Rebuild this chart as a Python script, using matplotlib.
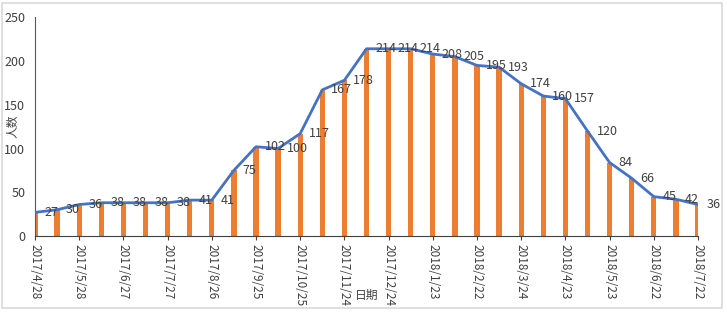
import pandas as pd
import matplotlib
matplotlib.use("Agg")
import matplotlib.pyplot as plt
import matplotlib.dates as mdates
from matplotlib import font_manager
from matplotlib.patches import Rectangle

installed = {f.name for f in font_manager.fontManager.ttflist}
narrow = 'Liberation Sans Narrow' in installed
num_font = ['Liberation Sans Narrow', 'Noto Sans CJK SC', 'DejaVu Sans'] if narrow else ['Noto Sans CJK SC', 'DejaVu Sans']
num_size = 10 if narrow else 8.5
plt.rcParams['font.family'] = num_font

# data
dates = ["2017-04-28", "2017-05-13", "2017-05-28", "2017-06-12", "2017-06-27",
         "2017-07-12", "2017-07-27", "2017-08-11", "2017-08-26", "2017-09-10",
         "2017-09-25", "2017-10-10", "2017-10-25", "2017-11-09", "2017-11-24",
         "2017-12-09", "2017-12-24", "2018-01-08", "2018-01-23", "2018-02-07",
         "2018-02-22", "2018-03-09", "2018-03-24", "2018-04-08", "2018-04-23",
         "2018-05-08", "2018-05-23", "2018-06-07", "2018-06-22", "2018-07-07",
         "2018-07-22"]
counts = [27, 30, 36, 38, 38, 38, 38, 41, 41, 75,
          102, 100, 117, 167, 178, 214, 214, 214, 208, 205,
          195, 193, 174, 160, 157, 120, 84, 66, 45, 42, 36]
tick_dates = ["2017-04-28", "2017-05-28", "2017-06-27", "2017-07-27", "2017-08-26",
              "2017-09-25", "2017-10-25", "2017-11-24", "2017-12-24", "2018-01-23",
              "2018-02-22", "2018-03-24", "2018-04-23", "2018-05-23", "2018-06-22",
              "2018-07-22"]
tick_labels = ["2017/4/28", "2017/5/28", "2017/6/27", "2017/7/27", "2017/8/26",
               "2017/9/25", "2017/10/25", "2017/11/24", "2017/12/24", "2018/1/23",
               "2018/2/22", "2018/3/24", "2018/4/23", "2018/5/23", "2018/6/22",
               "2018/7/22"]

x = pd.to_datetime(dates)
xt = pd.to_datetime(tick_dates)

fig = plt.figure(figsize=(7.27, 3.12), dpi=100)
ax = fig.add_axes([0.0481, 0.2436, 0.912, 0.701])

ax.bar(x, counts, width=3.6, color='#ED7D31', zorder=2)
ax.plot(x, counts, color='#4472C4', linewidth=2, zorder=3)

for d, v in zip(x, counts):
    ax.annotate(str(v), (mdates.date2num(d), v), xytext=(6.5, 0),
                textcoords='offset points', ha='left', va='center',
                fontsize=num_size + 0.5, color='#404040', zorder=4)

ax.set_xlim(mdates.date2num(x[0]), mdates.date2num(x[-1]))
ax.set_ylim(0, 250)
ax.set_yticks([0, 50, 100, 150, 200, 250])
ax.set_xticks(xt)
ax.set_xticklabels(tick_labels, rotation=-90, fontsize=num_size, color='#404040')
ax.tick_params(axis='y', length=0, pad=7, labelsize=num_size + 0.5, labelcolor='#404040')
ax.tick_params(axis='x', length=3, width=0.8, color='#404040', pad=2.5)

for s in ['top', 'right']:
    ax.spines[s].set_visible(False)
ax.spines['left'].set_color('#595959')
ax.spines['bottom'].set_color('#404040')

cjk = ['Noto Sans CJK SC', 'DejaVu Sans']
ax.set_ylabel('人数', fontsize=8.5, color='#404040', family=cjk)
ax.yaxis.set_label_coords(-0.033, 0.5)
ax.yaxis.label.set_va('center')
ax.set_xlabel('日期', fontsize=8.5, color='#404040', family=cjk)
ax.xaxis.set_label_coords(0.5, -0.272)
ax.xaxis.label.set_va('center')

# light chart-area border
fig.patches.append(Rectangle((0.003, 0.012), 0.99, 0.978, transform=fig.transFigure,
                             fill=False, edgecolor='#d9d9d9', linewidth=1.2))

fig.savefig('out.png', dpi=100)
